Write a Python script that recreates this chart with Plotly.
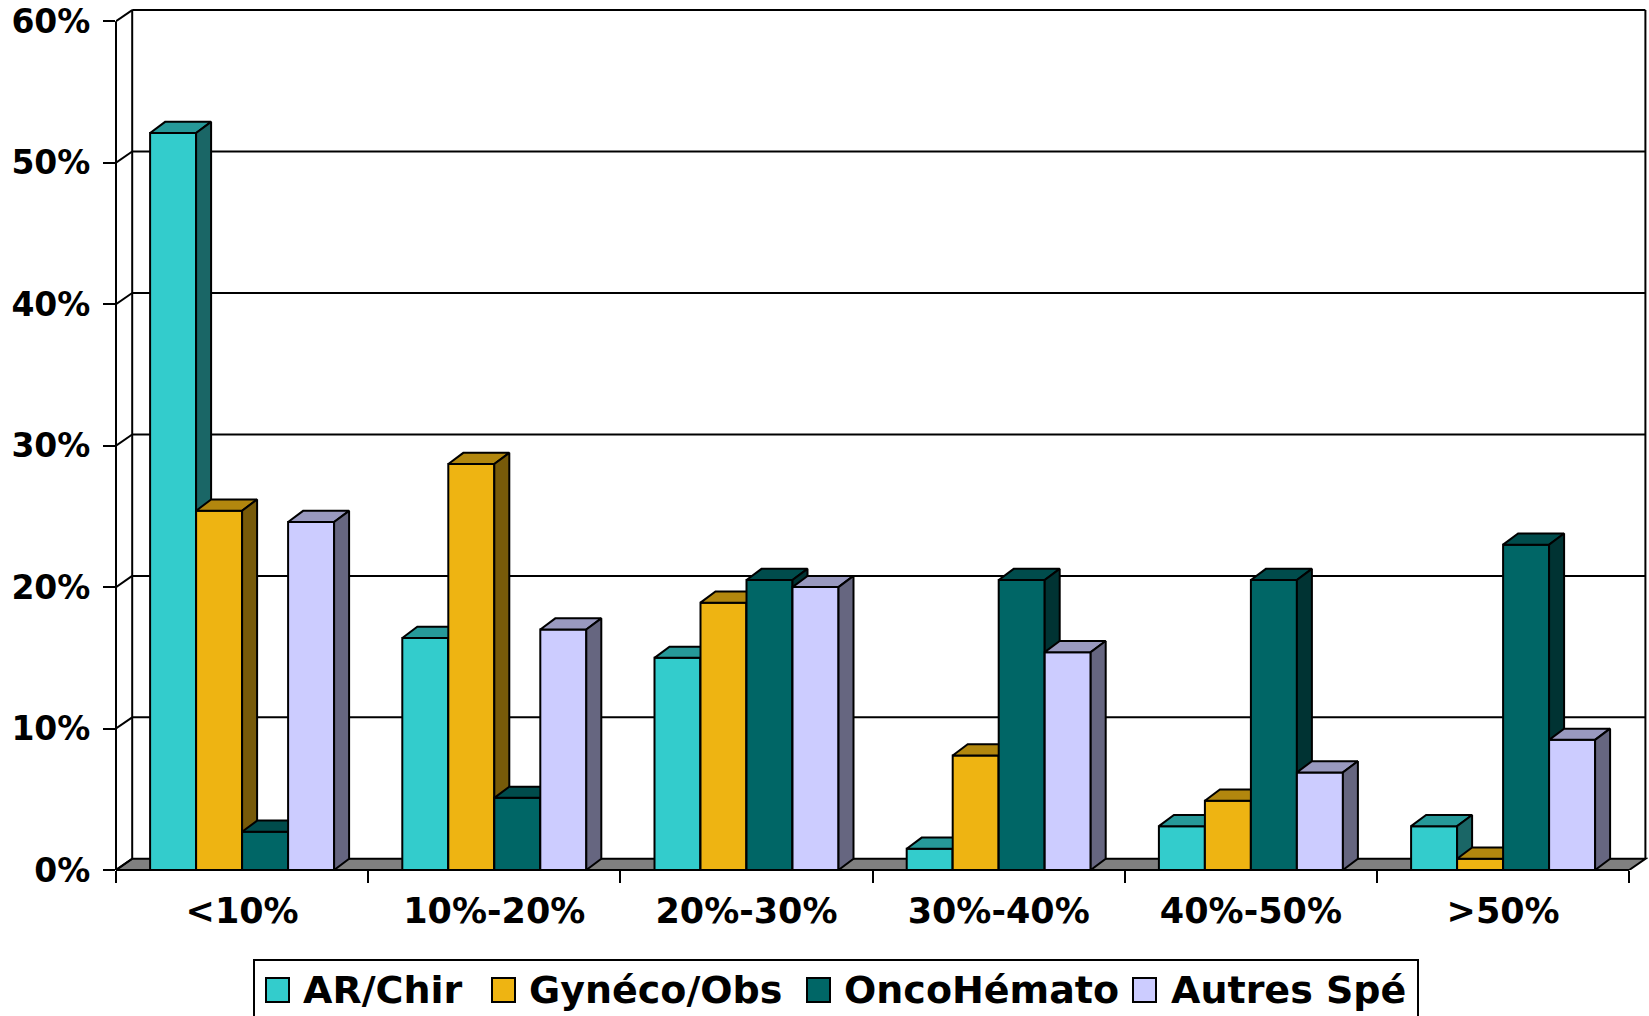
import plotly.graph_objects as go

# ---- data -------------------------------------------------------------
categories = ["<10%", "10%-20%", "20%-30%", "30%-40%", "40%-50%", ">50%"]
series_names = ["AR/Chir", "Gynéco/Obs", "OncoHémato", "Autres Spé"]
ar_chir = [52.1, 16.4, 15.0, 1.5, 3.1, 3.1]
gyneco_obs = [25.4, 28.7, 18.9, 8.1, 4.9, 0.8]
onco_hemato = [2.7, 5.1, 20.5, 20.5, 20.5, 23.0]
autres_spe = [24.6, 17.0, 20.0, 15.4, 6.9, 9.2]
y_ticks = [0, 10, 20, 30, 40, 50, 60]
y_tick_labels = ["0%", "10%", "20%", "30%", "40%", "50%", "60%"]

series_values = [ar_chir, gyneco_obs, onco_hemato, autres_spe]
front_colors = ["#33CCCC", "#EEB412", "#006666", "#CCCCFF"]


def shade(hex_color, k):
    r, g, b = (int(hex_color[i:i + 2], 16) for i in (1, 3, 5))
    return "#%02X%02X%02X" % (round(r * k), round(g * k), round(b * k))


top_colors = [shade(c, 0.75) for c in front_colors]
side_colors = [shade(c, 0.5) for c in front_colors]

# ---- geometry (pixels) -------------------------------------------------
FIG_W, FIG_H = 1649, 1016
M_L, M_R, M_T, M_B = 116, 1, 4, 146
PX_PER_CAT = 252.2
PX_PER_PCT = 14.145
PLOT_W = FIG_W - M_L - M_R
PLOT_H = FIG_H - M_T - M_B

X_MIN = -0.5
X_MAX = X_MIN + PLOT_W / PX_PER_CAT
Y_MAX = PLOT_H / PX_PER_PCT

WALL_DX = 16.2 / PX_PER_CAT      # depth of the floor / walls
BAR_DX = 15.0 / PX_PER_CAT       # depth of a column
DEPTH_DY = 11.2 / PX_PER_PCT     # vertical shift of the back plane
BAR_W = 46.0 / PX_PER_CAT
N_CAT = len(categories)
X_END = N_CAT - 0.5
Y_TOP = y_ticks[-1]

FONT = "DejaVu Sans"
LINE = dict(color="black", width=2)


def paper_x(px):
    return (px - M_L) / PLOT_W


def paper_y(py):
    return (FIG_H - M_B - py) / PLOT_H


fig = go.Figure()

# ---- 3D columns ---------------------------------------------------------
x_idx = list(range(N_CAT))
for j, (name, vals) in enumerate(zip(series_names, series_values)):
    offset = -2 * BAR_W + j * BAR_W
    fig.add_trace(go.Bar(
        x=x_idx, y=vals, width=BAR_W, offset=offset, name=name,
        marker=dict(color=front_colors[j], line=LINE),
        showlegend=False, zorder=3 * j, hoverinfo="x+y+name",
    ))
    tx, ty, sx, sy = [], [], [], []
    for i, v in enumerate(vals):
        x0 = i + offset
        x1 = x0 + BAR_W
        tx += [x0, x0 + BAR_DX, x1 + BAR_DX, x1, x0, None]
        ty += [v, v + DEPTH_DY, v + DEPTH_DY, v, v, None]
        sx += [x1, x1, x1 + BAR_DX, x1 + BAR_DX, x1, None]
        sy += [0, v, v + DEPTH_DY, DEPTH_DY, 0, None]
    fig.add_trace(go.Scatter(
        x=tx, y=ty, mode="lines", fill="toself", fillcolor=top_colors[j],
        line=dict(color="black", width=2, simplify=False), showlegend=False,
        hoverinfo="skip", zorder=3 * j + 1,
    ))
    fig.add_trace(go.Scatter(
        x=sx, y=sy, mode="lines", fill="toself", fillcolor=side_colors[j],
        line=dict(color="black", width=2, simplify=False), showlegend=False,
        hoverinfo="skip", zorder=3 * j + 1,
    ))

# ---- floor, walls and grid ----------------------------------------------
shapes = []
bx0, bx1 = X_MIN + WALL_DX, X_END + WALL_DX
shapes.append(dict(
    type="path", xref="x", yref="y", layer="below",
    path=f"M {X_MIN},0 L {X_END},0 L {bx1},{DEPTH_DY} L {bx0},{DEPTH_DY} Z",
    fillcolor="#808080", line=LINE,
))
for v in y_ticks[1:]:
    shapes.append(dict(type="line", xref="x", yref="y", layer="below",
                       x0=bx0, x1=bx1, y0=v + DEPTH_DY, y1=v + DEPTH_DY, line=LINE))
for v in y_ticks:
    shapes.append(dict(type="line", xref="x", yref="y", layer="below",
                       x0=X_MIN, x1=bx0, y0=v, y1=v + DEPTH_DY, line=LINE))
for xv in (bx0, bx1):
    shapes.append(dict(type="line", xref="x", yref="y", layer="below",
                       x0=xv, x1=xv, y0=DEPTH_DY, y1=Y_TOP + DEPTH_DY, line=LINE))
# front value axis
shapes.append(dict(type="line", xref="x domain", yref="y", layer="below",
                   x0=0, x1=0, y0=0, y1=Y_TOP, line=LINE))
# front edge of the floor
shapes.append(dict(type="line", xref="x", yref="y domain", layer="above",
                   x0=X_MIN, x1=X_END, y0=0, y1=0, line=LINE))

# ---- legend --------------------------------------------------------------
annotations = []
legend_box = (254, 960, 1418, 1040)
shapes.append(dict(type="rect", xref="paper", yref="paper",
                   x0=paper_x(legend_box[0]), x1=paper_x(legend_box[2]),
                   y0=paper_y(legend_box[1]), y1=paper_y(legend_box[3]),
                   line=LINE, fillcolor="white", layer="below"))
swatch_left = [266, 492, 807, 1133]
text_left = [301, 527, 842, 1169]
for j, name in enumerate(series_names):
    shapes.append(dict(type="rect", xref="paper", yref="paper",
                       x0=paper_x(swatch_left[j]), x1=paper_x(swatch_left[j] + 23),
                       y0=paper_y(978), y1=paper_y(1002),
                       fillcolor=front_colors[j], line=LINE))
    annotations.append(dict(
        text=name, xref="paper", yref="paper", x=paper_x(text_left[j]), y=paper_y(990),
        xanchor="left", yanchor="middle", showarrow=False,
        font=dict(family=FONT, size=38, color="black", weight="bold"),
    ))

fig.update_layout(
    width=FIG_W, height=FIG_H,
    margin=dict(l=M_L, r=M_R, t=M_T, b=M_B, pad=0, autoexpand=False),
    paper_bgcolor="white", plot_bgcolor="white",
    barmode="overlay",
    shapes=shapes, annotations=annotations,
    showlegend=False,
    font=dict(family=FONT, color="black"),
    xaxis=dict(
        range=[X_MIN, X_MAX], showgrid=False, zeroline=False, showline=False,
        tickmode="array", tickvals=x_idx, ticktext=categories, ticks="",
        tickfont=dict(family=FONT, size=35, color="black", weight="bold"),
        ticklabelstandoff=17,
        minor=dict(tickmode="array", tickvals=[i - 0.5 for i in range(N_CAT + 1)],
                   ticks="outside", ticklen=12, tickwidth=2, tickcolor="black",
                   showgrid=False),
    ),
    yaxis=dict(
        range=[0, Y_MAX], showgrid=False, zeroline=False, showline=False,
        tickmode="array", tickvals=y_ticks, ticktext=y_tick_labels,
        ticks="outside", ticklen=12, tickwidth=2, tickcolor="black",
        tickfont=dict(family=FONT, size=33, color="black", weight="bold"),
        ticklabelstandoff=6,
    ),
)

fig.write_html("out.html")
